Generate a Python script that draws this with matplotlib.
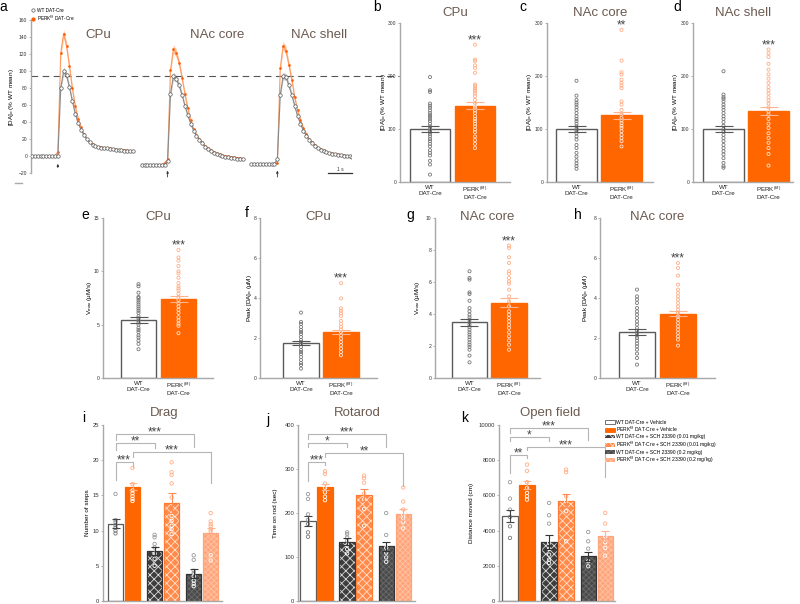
import matplotlib.pyplot as plt
import matplotlib as mpl
import matplotlib.patches as mpatches
import numpy as np
from matplotlib.lines import Line2D

plt.rcParams['font.family'] = ['Liberation Sans', 'DejaVu Sans']
plt.rcParams['hatch.linewidth'] = 0.6

W, H = 800, 604

# ---- a: evoked [DA]o traces (% WT mean), one sample per point
cpu_wt = [0] * 9 + [0, 80, 100, 95, 81, 65, 50, 39, 31, 25, 20, 16, 13.5, 11.5,
                    10.5, 10, 9.5, 9, 8.5, 8, 7.5, 7, 6.5, 6, 6, 5.5, 5.5]
cpu_perk = [0] * 9 + [5, 121, 144, 130, 106, 80, 59, 44, 34, 26, 20, 16, 14, 12,
                      11, 10.5, 10, 9.5, 9, 8.5, 8, 7.5, 7, 7, 6.5, 6, 6]
core_wt = [-10] * 9 + [-6, 73, 94, 91, 83, 72, 59, 48, 38, 30, 24, 19, 15, 11,
                       8, 6, 4, 2, 1, 0, -1, -1.5, -2, -2.5, -3, -3, -3.5]
core_perk = [-10] * 8 + [-8] + [-4, 101, 126, 121, 110, 92, 73, 56, 42, 32, 25, 20, 16, 12,
                                9, 7, 5, 3, 2, 1, 0, -0.5, -1, -1.5, -2, -2.5, -3]
shell_wt = [-9] * 9 + [-4, 72, 94, 93, 83, 72, 59, 47, 38, 30, 24, 19, 15, 12,
                       9.5, 7.5, 6, 4.5, 3.5, 2.5, 2, 1.5, 1, 0.5, 0, -0.5, -1]
shell_perk = [-9] * 9 + [-8, 103, 130, 124, 107, 90, 69, 54, 42, 33, 26, 20, 16, 13,
                         10, 8, 6.5, 5, 4, 3, 2.5, 2, 1.5, 1, 0.5, 0, -0.5]
sem_wt = [0.5] * 10 + [3, 4.5, 4, 3.5, 3, 2.5, 2, 2, 1.5, 1.5] + [1] * 16
sem_perk = [0.5] * 10 + [4, 5, 5, 4, 3.5, 3, 2.5, 2, 1.5, 1.5] + [1] * 16
trace_regions = ['CPu', 'NAc core', 'NAc shell']

# ---- b-h: WT vs PERK(f/f) bars (mean, sem) + individual slices
b_means, b_sems = [100, 144], [6, 6.5]
b_wt_pts = [198, 173, 170, 148, 144, 140, 135, 130, 126, 123, 119, 115, 110, 105, 101, 97,
            94, 90, 86, 81, 77, 72, 67, 60, 55, 50, 40, 33, 14]
b_perk_pts = [259, 231, 228, 220, 215, 206, 184, 181, 177, 174, 171, 167, 162, 155, 149, 144,
              140, 135, 130, 124, 119, 115, 110, 105, 99, 94, 86, 79, 72, 64]
c_means, c_sems = [100, 126], [6, 7]
c_wt_pts = [191, 163, 155, 150, 146, 141, 136, 130, 124, 119, 115, 110, 105, 100, 97, 92,
            86, 80, 70, 64, 55, 48, 41, 35, 30, 25]
c_perk_pts = [287, 229, 207, 203, 193, 187, 182, 177, 152, 146, 136, 127, 121, 116, 111, 106,
              102, 96, 89, 83, 77, 67]
d_means, d_sems = [100, 134], [6, 7]
d_wt_pts = [209, 165, 160, 157, 152, 146, 141, 136, 130, 124, 119, 113, 106, 100, 96, 89,
            83, 77, 70, 64, 58, 52, 45, 36, 30, 27]
d_perk_pts = [250, 243, 236, 223, 212, 203, 195, 187, 179, 173, 167, 160, 154, 148, 141, 133,
              127, 119, 110, 102, 92, 83, 74, 64, 53, 31]
e_means, e_sems = [5.45, 7.4], [0.25, 0.3]
e_wt_pts = [8.8, 8.6, 8.0, 7.6, 7.5, 7.3, 7.1, 6.9, 6.7, 6.5, 6.3, 6.1, 5.8, 5.6, 5.4, 5.2,
            5.0, 4.7, 4.5, 4.3, 4.0, 3.8, 3.5, 3.2, 2.7]
e_perk_pts = [12.0, 11.3, 11.0, 10.5, 10.0, 9.8, 9.4, 8.9, 8.6, 8.4, 8.2, 7.9, 7.6, 7.3, 7.0,
              6.7, 6.4, 6.1, 5.7, 5.4, 5.1, 4.9, 4.2]
f_means, f_sems = [1.75, 2.3], [0.1, 0.1]
f_wt_pts = [3.27, 2.8, 2.7, 2.55, 2.4, 2.3, 2.2, 2.05, 1.9, 1.8, 1.7, 1.55, 1.4, 1.3, 1.2,
            1.05, 0.9, 0.75, 0.65, 0.47]
f_perk_pts = [4.74, 3.98, 3.48, 3.36, 3.23, 3.1, 2.86, 2.7, 2.56, 2.43, 2.3, 2.14, 1.97, 1.8,
              1.64, 1.47, 1.3, 1.14]
g_means, g_sems = [3.48, 4.7], [0.2, 0.28]
g_wt_pts = [6.67, 6.25, 6.15, 5.35, 5.25, 4.83, 4.37, 4.17, 3.96, 3.79, 3.65, 3.48, 3.33, 3.17,
            3.02, 2.85, 2.71, 2.56, 2.4, 2.23, 2.08, 1.94, 1.77, 1.4, 0.98]
g_perk_pts = [8.27, 8.13, 7.54, 7.19, 6.67, 6.52, 6.25, 6.04, 5.9, 5.52, 5.1, 4.79, 4.48, 4.17,
              3.96, 3.75, 3.54, 3.33, 3.13, 2.85, 2.6, 2.35, 2.08, 1.77]
h_means, h_sems = [2.3, 3.22], [0.15, 0.14]
h_wt_pts = [4.42, 4.08, 3.92, 3.75, 3.5, 3.33, 3.17, 3.0, 2.83, 2.67, 2.5, 2.37, 2.25, 2.12,
            2.0, 1.87, 1.72, 1.58, 1.42, 1.22, 1.0, 0.67]
h_perk_pts = [5.75, 5.5, 5.12, 4.67, 4.42, 4.25, 4.08, 3.92, 3.75, 3.58, 3.42, 3.25, 3.08, 2.92,
              2.75, 2.58, 2.42, 2.25, 2.08, 1.92, 1.62]
pair_labels = ['WT\nDAT-Cre', 'PERK$^{\\mathregular{(f/f)}}$\nDAT-Cre']

# ---- i-k: behaviour with SCH 23390
group_labels = ['WT DAT-Cre + Vehicle',
                'PERK$^{\\mathregular{f/f}}$ DAT-Cre + Vehicle',
                'WT DAT-Cre + SCH 23390 (0.01 mg/kg)',
                'PERK$^{\\mathregular{f/f}}$ DAT-Cre + SCH 23390 (0.01 mg/kg)',
                'WT DAT-Cre + SCH 23390 (0.2 mg/kg)',
                'PERK$^{\\mathregular{f/f}}$ DAT-Cre + SCH 23390 (0.2 mg/kg)']
drag_means = [11.0, 16.2, 7.1, 13.9, 3.9, 9.7]
drag_sems = [0.6, 0.5, 0.6, 1.4, 0.6, 0.7]
drag_pts = [[15.2, 11.5, 11.2, 10.8, 10.4, 10.0, 9.6],
            [18.9, 16.6, 15.7, 15.3, 14.9, 14.5, 14.2],
            [9.4, 9.05, 8.1, 7.6, 6.7, 6.0, 5.0],
            [19.7, 18.3, 17.9, 16.7, 14.7, 12.1, 11.4, 10.7, 10.2, 9.5],
            [6.5, 5.85, 4.3, 3.96, 3.5, 2.9, 2.45, 2.1],
            [12.5, 11.3, 10.9, 10.6, 10.2, 9.9, 6.5, 5.75]]
drag_stats = [(0, 1, 19.7, 17.2, 19.1, '***'), (1, 5, 21.1, 20.4, 16.7, '***'),
              (0, 2, 22.4, 21.5, 21.7, '**'), (0, 4, 23.7, 22.9, 21.9, '***')]
rotarod_means = [182, 260, 135, 241, 124, 197]
rotarod_sems = [12, 7, 8, 13, 11, 13]
rotarod_pts = [[243, 232, 197, 184, 175, 156, 146],
               [295, 289, 267, 257, 247, 237, 229],
               [156, 152, 144, 137, 127, 118, 108],
               [285, 279, 269, 244, 231, 209, 171],
               [200, 150, 121, 110, 99, 89],
               [258, 226, 208, 196, 188, 180, 165]]
rotarod_stats = [(0, 1, 315, 273, 310, '***'), (1, 5, 336, 328, 262, '**'),
                 (0, 2, 358, 349, 349, '*'), (0, 4, 380, 368, 351, '***')]
openfield_means = [4815, 6578, 3336, 5706, 2540, 3697]
openfield_sems = [340, 230, 400, 380, 270, 300]
openfield_pts = [[6749, 5820, 5194, 4777, 4246, 3583],
                 [7753, 7393, 6749, 6427, 6142, 5953, 5763],
                 [5573, 4872, 4398, 3299, 2958, 2635, 2351, 2161],
                 [7469, 7317, 5953, 5668, 5100, 3393],
                 [3924, 3393, 2976, 2256, 1972],
                 [5005, 4398, 3678, 3336, 3014, 2578]]
openfield_stats = [(0, 1, 8290, 7260, 8110, '**'), (1, 5, 8750, 8570, 7030, '***'),
                   (0, 2, 9320, 9090, 9090, '*'), (0, 4, 9830, 9540, 9140, '***')]

ORANGE = '#ff6600'
LIGHT_OR = '#ffad85'
TITLE_C = '#6b5a50'
AX_C = '#a8a8a8'

fig = plt.figure(figsize=(8, 6.04), dpi=100)


def px_axes(left, top, right, bottom):
    return fig.add_axes([left / W, 1 - bottom / H, (right - left) / W, (bottom - top) / H])


def ftext(x, y, s, **kw):
    fig.text(x / W, 1 - y / H, s, **kw)


def style(ax, ylim, yticks, tick_fs=3.6):
    ax.set_ylim(*ylim)
    ax.set_yticks(yticks)
    for s in ['top', 'right']:
        ax.spines[s].set_visible(False)
    for s in ['left', 'bottom']:
        ax.spines[s].set_color(AX_C)
        ax.spines[s].set_linewidth(1)
    ax.tick_params(axis='y', length=1.8, width=0.6, color=AX_C, labelsize=tick_fs,
                   labelcolor='#333333', pad=0.8)
    ax.tick_params(axis='x', length=0, labelsize=4.5, pad=2, labelcolor='#222222')
    ax.patch.set_alpha(0)


def dots(ax, x, pts, top, out_c, in_c, size=5):
    pts = np.asarray(pts, dtype=float)
    cols = np.where(pts > top, out_c, in_c)
    ax.scatter(np.full(len(pts), x), pts, s=size, facecolors='none', edgecolors=cols,
               linewidths=0.6, zorder=4)


# ---------------- panel a ----------------
ax = px_axes(31, 20, 351, 173)
ax.set_xlim(-0.3, 110.5)
style(ax, (-20, 160), np.arange(-20, 161, 20))
ax.spines['bottom'].set_visible(False)
ax.set_xticks([])
x = np.arange(36)
wt_traces = [cpu_wt, core_wt, shell_wt]
perk_traces = [cpu_perk, core_perk, shell_perk]
for off, wt, perk in zip([0, 38, 76], wt_traces, perk_traces):
    xs = x + off
    wt, perk = np.array(wt, float), np.array(perk, float)
    ax.fill_between(xs, perk - sem_perk, perk + sem_perk, color='#ffc9a8', lw=0, zorder=1)
    ax.fill_between(xs, wt - sem_wt, wt + sem_wt, color='#cccccc', lw=0, zorder=2)
    ax.plot(xs, perk, color='#ff9a5c', lw=0.8, marker='o', ms=1.9, mfc='#ff5a00',
            mec='#ff5a00', mew=0, zorder=3)
    ax.plot(xs, wt, color='#8a8a8a', lw=0.8, marker='o', ms=2.5, mfc='white',
            mec='#555555', mew=0.5, zorder=4)
    arrow_y = (-17, -6) if off == 0 else (-28, -14)
    ax.annotate('', xy=(off + 9, arrow_y[1]), xytext=(off + 9, arrow_y[0]),
                arrowprops=dict(arrowstyle='-|>', lw=0.6, color='#333333', mutation_scale=3),
                annotation_clip=False)
ax.plot([-0.3, 127.6], [94, 94], ls=(0, (6, 4)), color='#555555', lw=0.8, clip_on=False)
ax.plot([102.6, 111], [-20, -20], color='#333333', lw=0.9, clip_on=False)
ax.text(106.8, -19, '1 s', fontsize=3.6, ha='center', va='bottom', color='#333333')
for tx, name in zip([98, 217, 319], trace_regions):
    ftext(tx, 35, name, fontsize=9.5, color=TITLE_C, ha='center', va='center')
h_wt = Line2D([], [], marker='o', ms=2.4, mfc='white', mec='#555555', mew=0.5, ls='none')
h_pk = Line2D([], [], marker='o', ms=2, mfc='#ff5a00', mec='#ff5a00', ls='none')
ax.legend([h_wt, h_pk], ['WT DAT-Cre', 'PERK$^{\\mathregular{f/f}}$ DAT-Cre'], loc='upper left',
          bbox_to_anchor=(31 / W, 1 - 8 / H), bbox_transform=fig.transFigure, frameon=False,
          fontsize=3.4, handlelength=0.9, handletextpad=0.4, labelspacing=0.2,
          borderpad=0, borderaxespad=0)
ftext(12, 97, '[DA]$_{\\mathregular{o}}$ (% WT mean)', fontsize=4.6, rotation=90,
      ha='center', va='center')
ftext(3, 0, 'a', fontsize=10, ha='center', va='top')
fig.add_artist(Line2D([15 / W, 22 / W], [1 - 183 / H] * 2, color='#aaaaaa', lw=1))

# ---------------- panels b-h ----------------
pair_panels = [
    ('b', 'CPu', (400, 23, 510, 182), 430, 45, b_means, b_sems, b_wt_pts, b_perk_pts,
     (0, 300), [0, 100, 200, 300], '***', '[DA]$_{\\mathregular{o}}$ (% WT mean)', 383, (377, 0)),
    ('c', 'NAc core', (547, 23, 653, 182), 576.5, 45, c_means, c_sems, c_wt_pts, c_perk_pts,
     (0, 300), [0, 100, 200, 300], '**', '[DA]$_{\\mathregular{o}}$ (% WT mean)', 530, (523, 0)),
    ('d', 'NAc shell', (693, 23, 793, 182), 723.5, 45, d_means, d_sems, d_wt_pts, d_perk_pts,
     (0, 300), [0, 100, 200, 300], '***', '[DA]$_{\\mathregular{o}}$ (% WT mean)', 676, (677, 0)),
    ('e', 'CPu', (103, 218, 213, 378), 138.5, 40, e_means, e_sems, e_wt_pts, e_perk_pts,
     (0, 15), [0, 5, 10, 15], '***', 'V$_{\\mathregular{max}}$ (μM/s)', 89, (85, 208)),
    ('f', 'CPu', (260, 218, 377, 378), 301, 40, f_means, f_sems, f_wt_pts, f_perk_pts,
     (0, 8), [0, 2, 4, 6, 8], '***', 'Peak [DA]$_{\\mathregular{o}}$ (μM)', 249, (247, 206)),
    ('g', 'NAc core', (435, 218, 540, 378), 469.5, 39.5, g_means, g_sems, g_wt_pts, g_perk_pts,
     (0, 10), [0, 2, 4, 6, 8, 10], '***', 'V$_{\\mathregular{max}}$ (μM/s)', 418, (410, 208)),
    ('h', 'NAc core', (600, 218, 715, 378), 637, 41, h_means, h_sems, h_wt_pts, h_perk_pts,
     (0, 8), [0, 2, 4, 6, 8], '***', 'Peak [DA]$_{\\mathregular{o}}$ (μM)', 586, (578, 208)),
]
for (lab, title, rect, cx, unit, means, sems, wt_pts, pk_pts, ylim, yt, stars,
     ylab, ylab_x, lab_xy) in pair_panels:
    L, T, R, B = rect
    ax = px_axes(L, T, R, B)
    ax.set_xlim((L - cx) / unit, (R - cx) / unit)
    style(ax, ylim, yt)
    ax.bar([0, 1], means, width=0.89, color=['white', ORANGE],
           edgecolor=['#5a5a5a', ORANGE], linewidth=1, zorder=2)
    dots(ax, 0, wt_pts, means[0], '#777777', '#777777')
    dots(ax, 1, pk_pts, means[1], LIGHT_OR, '#ffe3d4')
    ax.errorbar(0, means[0], yerr=sems[0], fmt='none', ecolor='#555555', elinewidth=0.8,
                capsize=6.5, capthick=0.8, zorder=5)
    ax.errorbar(1, means[1], yerr=sems[1], fmt='none', ecolor='#ffb48f', elinewidth=0.8,
                capsize=6.5, capthick=0.8, zorder=5)
    ax.set_xticks([0, 1])
    ax.set_xticklabels(pair_labels)
    ax.text(1, max(pk_pts) + 0.028 * ylim[1], stars, fontsize=8.5, ha='center',
            va='center', color='#444444')
    tx = (L + R) / 2
    ty = 13 if T < 100 else 217
    ftext(tx, ty, title, fontsize=9.5, color=TITLE_C, ha='center', va='center')
    ftext(ylab_x, (T + B) / 2, ylab, fontsize=4.6, rotation=90, ha='center', va='center')
    ftext(lab_xy[0], lab_xy[1], lab, fontsize=10, ha='center', va='top')

# ---------------- panels i-k ----------------
xpos = np.array([0, 1, 2.3, 3.3, 4.6, 5.6])
faces = ['white', ORANGE, '#3d3d3d', '#ff8a4a', '#4a4a4a', '#ffa57c']
hatches = [None, None, 'xxxx', 'xxxx', 'xxxxxx', 'xxxxxx']
hatch_cols = ['black', 'black', '#dcdcdc', '#ffe0cc', '#6a6a6a', '#ffc2a3']
edges = ['#5a5a5a', ORANGE, '#333333', '#ff7a33', '#333333', '#ffa57c']
err_cols = ['#444444', '#ffb48f', '#333333', '#ff8c55', '#333333', '#ffb48f']
dot_out = ['#999999', LIGHT_OR, '#999999', LIGHT_OR, '#999999', LIGHT_OR]
dot_in = ['#777777', 'white', 'white', 'white', 'white', 'white']

beh_panels = [
    ('i', 'Drag', (103, 425, 222, 601), 115.5, drag_means, drag_sems, drag_pts, drag_stats,
     (0, 25), np.arange(0, 26, 5), 'Number of steps', 88, (84, 411), 164),
    ('j', 'Rotarod', (298, 425, 415, 601), 308, rotarod_means, rotarod_sems, rotarod_pts,
     rotarod_stats, (0, 400), np.arange(0, 401, 100), 'Time on rod (sec)', 276, (268, 413), 357),
    ('k', 'Open field', (499, 425, 615, 601), 510, openfield_means, openfield_sems,
     openfield_pts, openfield_stats, (0, 10000), np.arange(0, 10001, 2000),
     'Distance moved (cm)', 472, (465, 411), 550),
]
unit = 17.0
for (lab, title, rect, cx, means, sems, pts, stats, ylim, yt, ylab, ylab_x,
     lab_xy, title_x) in beh_panels:
    L, T, R, B = rect
    ax = px_axes(L, T, R, B)
    ax.set_xlim((L - cx) / unit, (R - cx) / unit)
    style(ax, ylim, yt, tick_fs=4.2)
    ax.set_xticks([])
    for i in range(6):
        with plt.rc_context({'hatch.color': hatch_cols[i]}):
            ax.bar(xpos[i], means[i], width=0.9, color=faces[i], hatch=hatches[i],
                   linewidth=0, zorder=2)
        ax.bar(xpos[i], means[i], width=0.9, fill=False, edgecolor=edges[i],
               linewidth=0.9, zorder=3)
        dots(ax, xpos[i], pts[i], means[i], dot_out[i], dot_in[i], size=6)
        ax.errorbar(xpos[i], means[i], yerr=sems[i], fmt='none', ecolor=err_cols[i],
                    elinewidth=0.8, capsize=3, capthick=0.8, zorder=5)
    for i1, i2, y, y1, y2, s in stats:
        x1, x2 = xpos[i1], xpos[i2]
        ax.plot([x1, x1, x2, x2], [y1, y, y, y2], color='#b5b5b5', lw=0.8,
                clip_on=False, zorder=1)
        ax.annotate(s, xy=((x1 + x2) / 2, y), xytext=(0, 1.2), textcoords='offset points',
                    fontsize=8.5, ha='center', va='center', color='#444444',
                    annotation_clip=False)
    ftext(title_x, 413, title, fontsize=9.5, color=TITLE_C, ha='center', va='center')
    ftext(ylab_x, (T + B) / 2, ylab, fontsize=4.6, rotation=90, ha='center', va='center')
    ftext(lab_xy[0], lab_xy[1], lab, fontsize=10, ha='center', va='top')

# legend for i-k, drawn next to k
handles = [mpatches.Patch(facecolor='white', edgecolor='#5a5a5a', linewidth=0.6),
           mpatches.Patch(facecolor=ORANGE, edgecolor=ORANGE, linewidth=0.6)]
for i in range(2, 6):
    with plt.rc_context({'hatch.color': hatch_cols[i]}):
        handles.append(mpatches.Patch(facecolor=faces[i], hatch=hatches[i], linewidth=0))
fig.legend(handles, group_labels, loc='upper left', bbox_to_anchor=(605 / W, 1 - 420 / H),
           frameon=False, fontsize=3.6, handlelength=2.0, handleheight=0.8,
           handletextpad=0.3, labelspacing=0.0, borderpad=0, borderaxespad=0)

fig.savefig('out.png', dpi=100)
